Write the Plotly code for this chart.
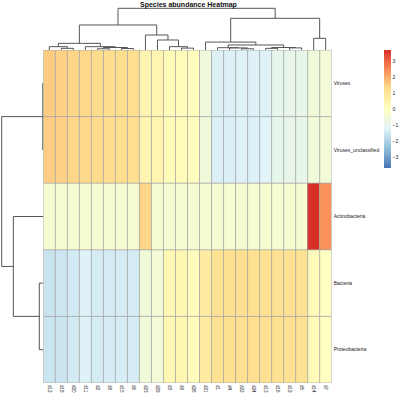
import plotly.graph_objects as go

# ---------------- data ----------------
col_labels = ["d12", "d18", "d20", "d11", "d2", "d8", "d15", "d6", "d23", "d29", "d3", "d9",
              "d26", "d21", "d1", "d4", "d22", "d24", "d13", "d16", "d19", "d5", "d14", "d7"]
row_labels = ["Viruses", "Viruses_unclassified", "Actinobacteria", "Bacteria", "Proteobacteria"]

viruses = [1.55, 1.45, 1.38, 1.33, 1.30, 1.28, 1.27, 1.25, 0.42, 0.40, 0.15, 0.10,
           0.05, -0.60, -1.30, -1.30, -1.28, -1.28, -1.25, -0.95, -0.92, -0.90, -0.55, -0.52]
viruses_unclassified = [1.52, 1.46, 1.36, 1.33, 1.31, 1.27, 1.26, 1.24, 0.40, 0.41, 0.16, 0.12,
                        0.06, -0.58, -1.29, -1.31, -1.27, -1.29, -1.24, -0.96, -0.93, -0.91, -0.56, -0.50]
actinobacteria = [-0.36, -0.37, -0.36, -0.35, -0.36, -0.36, -0.37, -0.36, 1.40, -0.36, -0.35, -0.36,
                  -0.36, -0.37, -0.36, -0.36, -0.35, -0.36, -0.36, -0.37, -0.36, -0.36, 3.70, 2.40]
bacteria = [-1.60, -1.55, -1.45, -1.25, -1.40, -1.40, -1.38, -1.40, -0.55, -0.50, 0.30, 0.35,
            0.10, 0.75, 1.20, 1.22, 1.25, 1.22, 1.20, 1.18, 1.20, 1.15, 0.20, -0.05]
proteobacteria = [-1.58, -1.56, -1.44, -1.26, -1.41, -1.39, -1.37, -1.41, -0.54, -0.52, 0.31, 0.34,
                  0.11, 0.76, 1.21, 1.21, 1.24, 1.23, 1.19, 1.17, 1.21, 1.16, 0.21, -0.04]

# hierarchical merges: (left, right, height); ids >= n refer to earlier merges
col_merges = [
    (1, 2, 0.04), (0, 24, 0.08), (4, 5, 0.03), (6, 7, 0.035), (26, 27, 0.06),
    (3, 28, 0.08), (25, 29, 0.16), (11, 12, 0.045), (10, 31, 0.08), (9, 32, 0.24),
    (8, 33, 0.36), (30, 34, 0.60), (16, 17, 0.03), (15, 36, 0.05), (14, 37, 0.055),
    (18, 19, 0.04), (20, 21, 0.05), (39, 40, 0.06), (38, 41, 0.12), (13, 42, 0.19),
    (22, 23, 0.28), (43, 44, 0.76), (35, 45, 1.0),
]
row_merges = [(0, 1, 0.012), (3, 4, 0.096), (2, 6, 0.72), (5, 7, 1.0)]

colorbar_ticks = [-3, -2, -1, 0, 1, 2, 3]
palette = ["#4575B4", "#91BFDB", "#E0F3F8", "#FFFFBF", "#FEE090", "#FC8D59", "#D73027"]

# ---------------- helpers ----------------
z = [viruses, viruses_unclassified, actinobacteria, bacteria, proteobacteria]
ncol, nrow = len(col_labels), len(row_labels)
m = max(abs(v) for row in z for v in row)


def dendro(n, merges):
    pos = {i: float(i) for i in range(n)}
    hgt = {i: 0.0 for i in range(n)}
    ps, hs = [], []
    for k, (a, b, h) in enumerate(merges):
        ps += [pos[a], pos[a], pos[b], pos[b], None]
        hs += [hgt[a], h, h, hgt[b], None]
        pos[n + k] = (pos[a] + pos[b]) / 2
        hgt[n + k] = h
    return ps, hs


W, H = 399, 400
hx0, hx1, hy0, hy1 = 43.3, 331.7, 50.0, 383.0
cd_top = 8.3
rd_left = 1.7
ext = 1.04


def px(x):
    return x / W


def py(y):
    return 1 - y / H


colorscale = [[i / (len(palette) - 1), c] for i, c in enumerate(palette)]

fig = go.Figure()
fig.add_trace(go.Heatmap(
    z=z, x=list(range(ncol)), y=list(range(nrow)),
    colorscale=colorscale, zmin=-m, zmax=m,
    xaxis="x", yaxis="y",
    colorbar=dict(
        lenmode="pixels", len=118, thicknessmode="pixels", thickness=7,
        x=px(384.3), xanchor="left", y=py(109), yanchor="middle",
        xpad=0, ypad=0, outlinewidth=0, ticks="", tickvals=colorbar_ticks,
        ticklabelposition="outside", tickfont=dict(size=5, color="#222", family="Liberation Sans"),
    ),
    hoverinfo="skip",
))

# cell borders
bx, by = [], []
for i in range(ncol + 1):
    bx += [i - 0.5, i - 0.5, None]
    by += [-0.5, nrow - 0.5, None]
for j in range(nrow + 1):
    bx += [-0.5, ncol - 0.5, None]
    by += [j - 0.5, j - 0.5, None]
fig.add_trace(go.Scatter(x=bx, y=by, mode="lines", line=dict(color="#A3A3A3", width=0.8),
                         xaxis="x", yaxis="y", hoverinfo="skip", showlegend=False))

# column dendrogram
cp, ch = dendro(ncol, col_merges)
fig.add_trace(go.Scatter(x=cp, y=ch, mode="lines", line=dict(color="#555555", width=1),
                         xaxis="x2", yaxis="y2", hoverinfo="skip", showlegend=False))
# row dendrogram
rp, rh = dendro(nrow, row_merges)
fig.add_trace(go.Scatter(x=rh, y=rp, mode="lines", line=dict(color="#555555", width=1),
                         xaxis="x3", yaxis="y3", hoverinfo="skip", showlegend=False))

base = dict(showgrid=False, zeroline=False, showline=False, automargin=False)
fig.update_layout(
    template="none",
    width=W, height=H, autosize=False,
    margin=dict(l=0, r=0, t=0, b=0),
    paper_bgcolor="white", plot_bgcolor="white",
    showlegend=False,
    font=dict(family="Liberation Sans", color="#222"),
    xaxis=dict(base, domain=[px(hx0), px(hx1)], range=[-0.5, ncol - 0.5], anchor="y",
               tickvals=list(range(ncol)), ticktext=col_labels, tickangle=90, ticks="",
               tickfont=dict(size=4.5), ticklabelstandoff=1),
    yaxis=dict(base, domain=[py(hy1), py(hy0)], range=[nrow - 0.5, -0.5], anchor="x",
               side="right", tickvals=list(range(nrow)), ticktext=row_labels, ticks="",
               tickfont=dict(size=5), ticklabelstandoff=1),
    xaxis2=dict(base, domain=[px(hx0), px(hx1)], range=[-0.5, ncol - 0.5], anchor="y2", visible=False),
    yaxis2=dict(base, domain=[py(hy0), py(hy0 - (hy0 - cd_top) * ext)], range=[0, ext],
                anchor="x2", visible=False),
    xaxis3=dict(base, domain=[px(hx0 - (hx0 - rd_left) * ext), px(hx0)], range=[ext, 0],
                anchor="y3", visible=False),
    yaxis3=dict(base, domain=[py(hy1), py(hy0)], range=[nrow - 0.5, -0.5], anchor="x3", visible=False),
    annotations=[dict(text="<b>Species abundance Heatmap</b>", x=px(188), y=py(5),
                      xref="paper", yref="paper", showarrow=False, xanchor="center", yanchor="middle",
                      font=dict(size=7, color="#111"))],
)

fig.write_html("out.html", config={"displayModeBar": False},
               post_script="document.body.style.margin='0';")
